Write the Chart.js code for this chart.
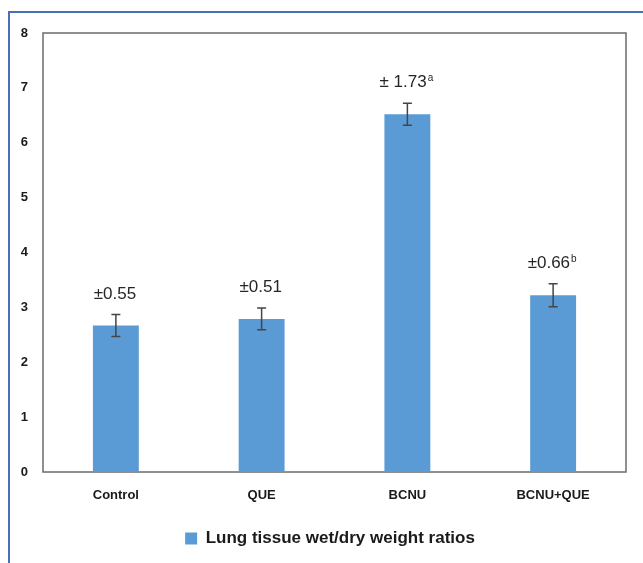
<!DOCTYPE html>
<html><head><meta charset="utf-8">
<script src="https://cdn.jsdelivr.net/npm/chart.js@4"></script>
<style>
html,body{margin:0;padding:0;background:#fff;}
#wrap{position:relative;width:643px;height:563px;overflow:hidden;}
#frame{position:absolute;left:8px;top:11px;width:700px;height:700px;border-left:2px solid #4a6fb8;border-top:2px solid #4a6fb8;}
canvas{position:absolute;left:0;top:0;}
</style></head><body>
<div id="wrap"><div id="frame"></div><canvas id="c" width="643" height="563"></canvas></div>
<script>
const categories = ['Control', 'QUE', 'BCNU', 'BCNU+QUE'];
const ratioMeans = [2.67, 2.79, 6.52, 3.22];
const errorBars = [0.20, 0.20, 0.20, 0.21];
const sdLabels = ['±0.55', '±0.51', '± 1.73', '±0.66'];
const sdSuperscripts = ['', '', 'a', 'b'];
const seriesName = 'Lung tissue wet/dry weight ratios';
const yMin = 0, yMax = 8, yStep = 1;

const FONT = "'Liberation Sans', Arial, sans-serif";

const plotBorder = {
  id: 'plotBorder',
  beforeDatasetsDraw(chart) {
    const {ctx, chartArea: a} = chart;
    ctx.save();
    ctx.strokeStyle = '#6b6b6b';
    ctx.lineWidth = 1.5;
    ctx.strokeRect(a.left, a.top, a.right - a.left, a.bottom - a.top);
    ctx.restore();
  }
};

const errorAndLabels = {
  id: 'errorAndLabels',
  afterDatasetsDraw(chart) {
    const {ctx} = chart;
    const y = chart.scales.y;
    const meta = chart.getDatasetMeta(0);
    ctx.save();
    meta.data.forEach((bar, i) => {
      const x = bar.x;
      const yHi = y.getPixelForValue(ratioMeans[i] + errorBars[i]);
      const yLo = y.getPixelForValue(ratioMeans[i] - errorBars[i]);
      ctx.strokeStyle = '#454545';
      ctx.lineWidth = 1.5;
      ctx.beginPath();
      ctx.moveTo(x, yHi); ctx.lineTo(x, yLo);
      ctx.moveTo(x - 4.5, yHi); ctx.lineTo(x + 4.5, yHi);
      ctx.moveTo(x - 4.5, yLo); ctx.lineTo(x + 4.5, yLo);
      ctx.stroke();
      const main = sdLabels[i], sup = sdSuperscripts[i];
      ctx.font = '17px ' + FONT;
      const wMain = ctx.measureText(main).width;
      ctx.font = '10px ' + FONT;
      const wSup = sup ? ctx.measureText(sup).width + 1 : 0;
      const start = x - (wMain + wSup) / 2 - 1;
      const base = yHi - 16;
      ctx.fillStyle = '#262626';
      ctx.textAlign = 'left';
      ctx.textBaseline = 'alphabetic';
      ctx.font = '17px ' + FONT;
      ctx.fillText(main, start, base);
      if (sup) {
        ctx.font = '10px ' + FONT;
        ctx.fillText(sup, start + wMain + 1, base - 6);
      }
    });
    ctx.restore();
  }
};

new Chart(document.getElementById('c'), {
  type: 'bar',
  data: {
    labels: categories,
    datasets: [{
      label: seriesName,
      data: ratioMeans,
      backgroundColor: '#5b9bd5',
      borderWidth: 0,
      categoryPercentage: 1,
      barPercentage: 0.315
    }]
  },
  options: {
    responsive: false,
    animation: false,
    layout: {padding: {left: 17, top: 33, right: 0, bottom: 6}},
    plugins: {
      tooltip: {enabled: false},
      legend: {
        position: 'bottom',
        labels: {
          boxWidth: 12, boxHeight: 12, padding: 10,
          color: '#1a1a1a',
          font: {family: FONT, size: 17, weight: 'bold'}
        }
      }
    },
    scales: {
      x: {
        grid: {display: false, drawTicks: false},
        border: {display: false},
        ticks: {padding: 16, color: '#1a1a1a', font: {family: FONT, size: 13, weight: 'bold'}},
        afterFit(s) { s.height = 48; }
      },
      y: {
        min: yMin, max: yMax,
        grid: {display: false, drawTicks: false},
        border: {display: false},
        ticks: {stepSize: yStep, padding: 15, color: '#1a1a1a', font: {family: FONT, size: 13, weight: 'bold'}},
        afterFit(s) { s.width = 26; }
      },
      yRightSpace: {
        position: 'right',
        display: true,
        min: yMin, max: yMax,
        grid: {display: false, drawTicks: false},
        border: {display: false},
        ticks: {display: false},
        afterFit(s) { s.width = 17; }
      }
    }
  },
  plugins: [plotBorder, errorAndLabels]
});
</script>
</body></html>
